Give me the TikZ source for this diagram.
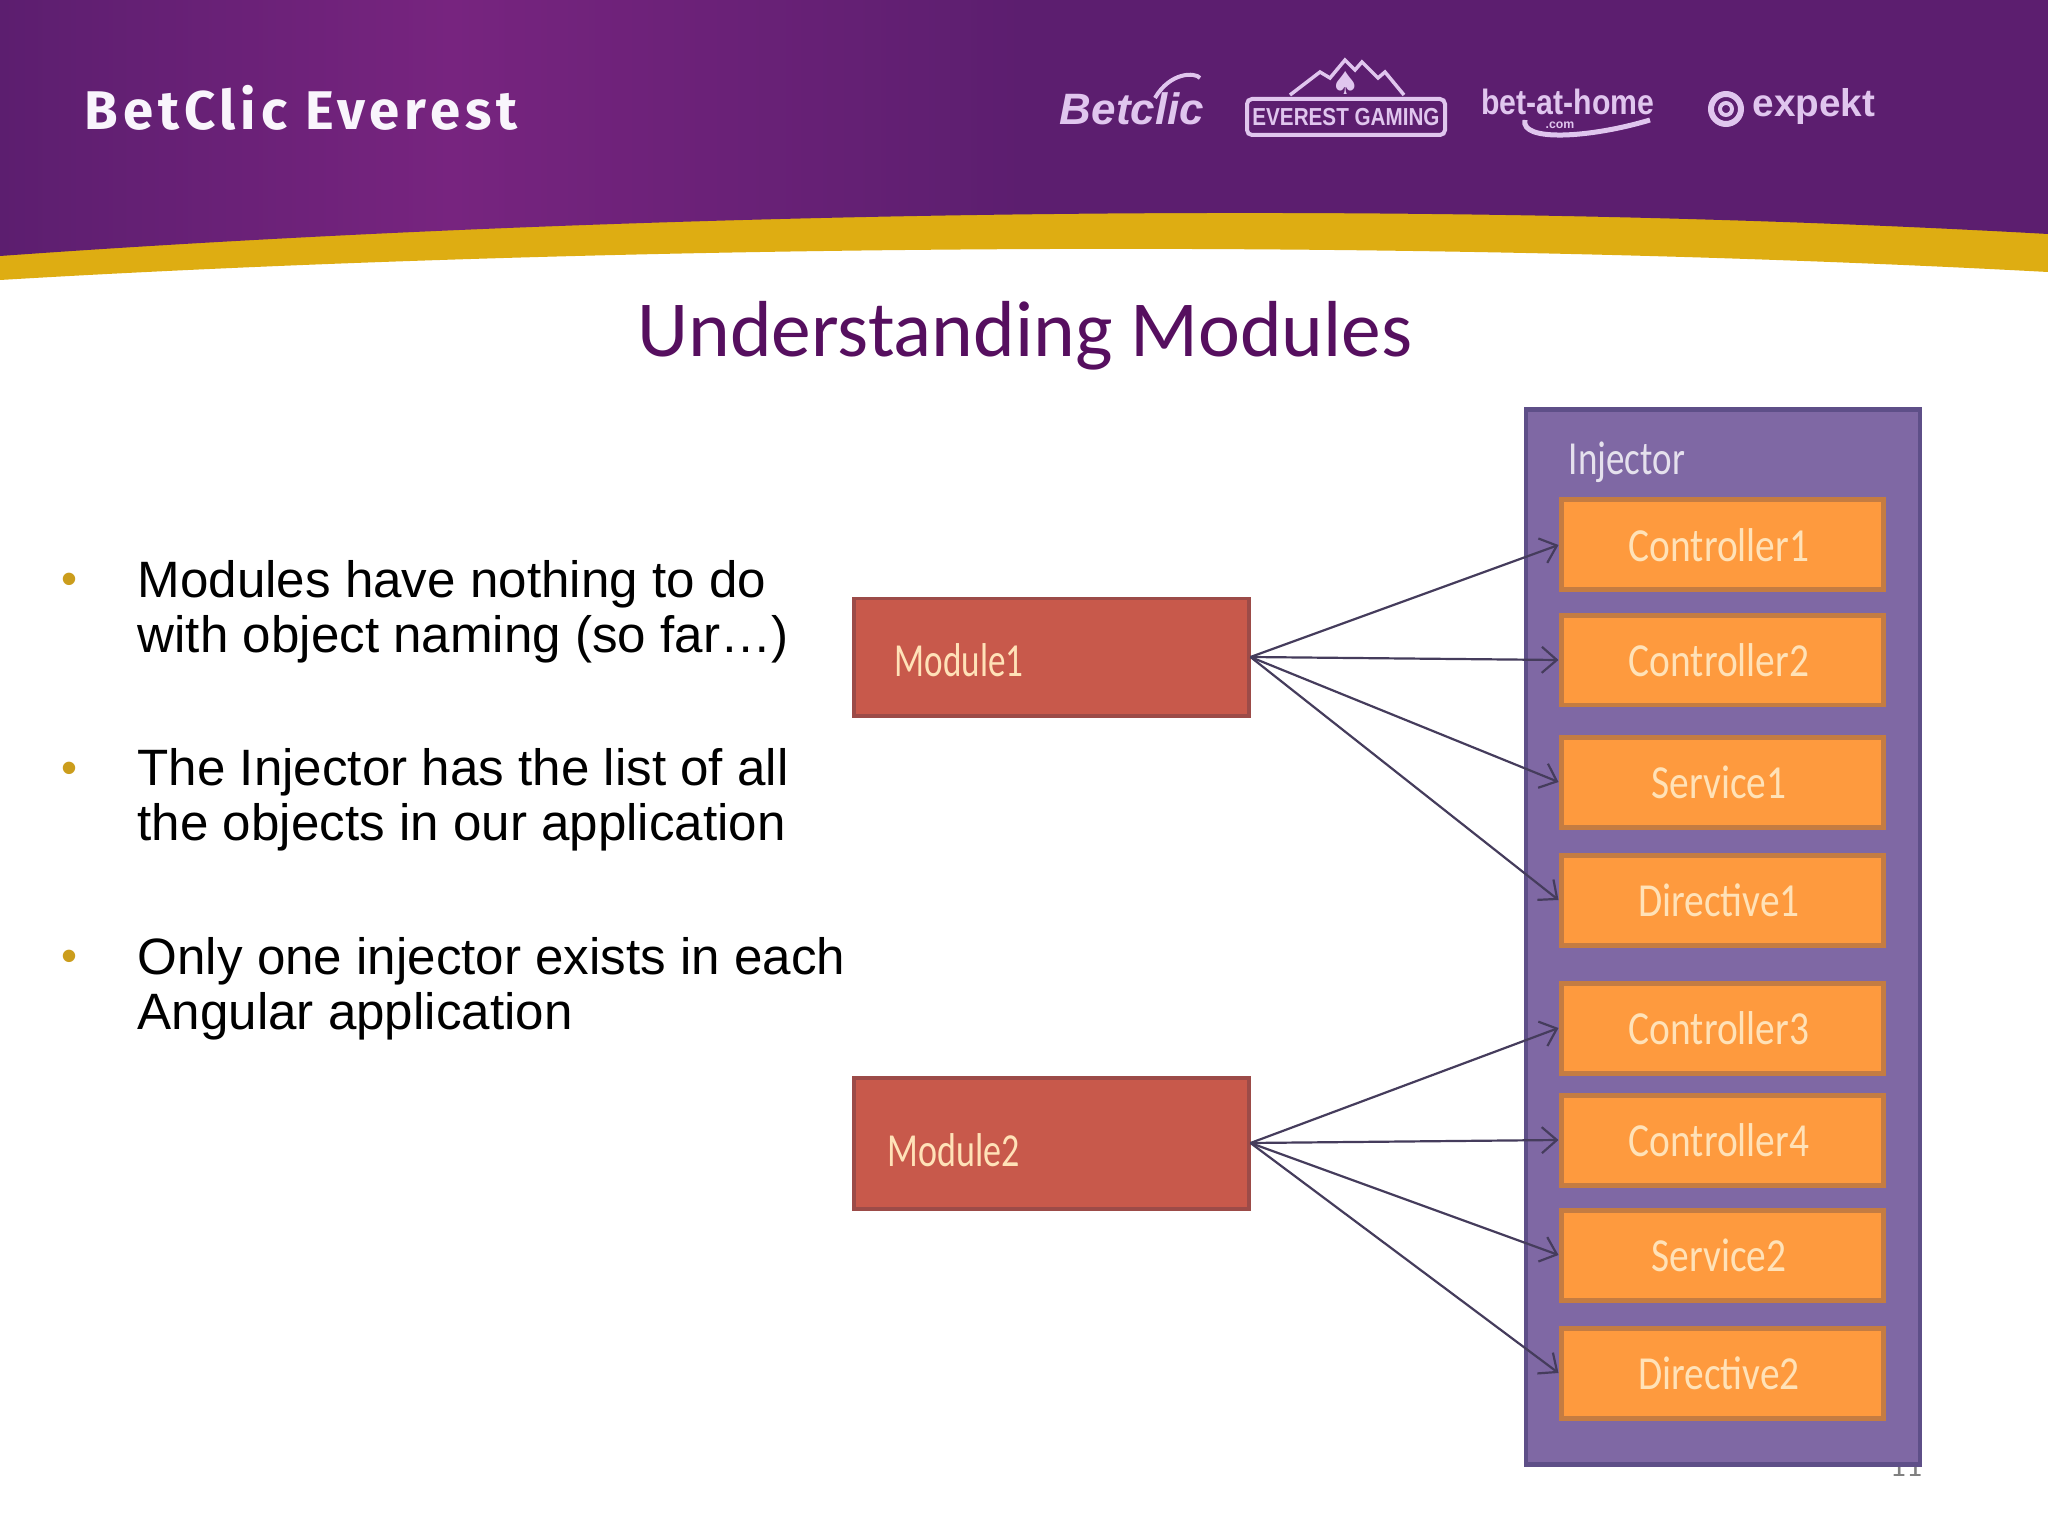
\documentclass[tikz,border=0pt]{standalone}
\usepackage{fontspec}
\usetikzlibrary{arrows.meta}
\setmainfont{Liberation Sans}
\newfontfamily\titlefont{Carlito}
\newfontfamily\handfont{Carlito}
\newfontfamily\brandfont[LetterSpace=9]{Fira Sans}
\newfontfamily\logofont{Liberation Sans}
\newfontfamily\symfont{DejaVu Sans}
\definecolor{bandpurple}{HTML}{5C1E6F}
\definecolor{bandlight}{HTML}{77247F}
\definecolor{bandgold}{HTML}{DEAD12}
\definecolor{logolilac}{HTML}{E0C6EE}
\definecolor{titlepurple}{HTML}{560F5F}
\definecolor{injfill}{HTML}{7F68A4}
\definecolor{injedge}{HTML}{5E4F88}
\definecolor{orfill}{HTML}{FE9A3E}
\definecolor{oredge}{HTML}{C47C42}
\definecolor{modfill}{HTML}{C8594B}
\definecolor{modedge}{HTML}{9C4B48}
\definecolor{labelcream}{HTML}{FFE2B8}
\definecolor{arrowdark}{HTML}{453C5C}
\definecolor{bulletgold}{HTML}{CB9D1C}
\pgfdeclarehorizontalshading{bandshade}{100bp}{color(0bp)=(bandpurple); color(25bp)=(bandpurple); color(36bp)=(bandlight); color(50bp)=(bandpurple); color(100bp)=(bandpurple)}
\newcommand{\thin}[2]{\scalebox{#1}[1]{#2}}
\begin{document}
\begin{tikzpicture}[>={Straight Barb[length=1.5mm,width=2.6mm]}]
  \tikzstyle{part}=[draw=oredge,fill=orfill,line width=0.5mm,minimum width=3.22cm,minimum height=0.9cm,inner sep=0pt]
  \tikzstyle{module}=[draw=modedge,fill=modfill,line width=0.4mm,minimum width=3.95cm,inner sep=0pt]
  \tikzstyle{cream}=[text=labelcream,font=\handfont\fontsize{13.5}{13.5}\selectfont,inner sep=0pt]
  \tikzstyle{bodytext}=[anchor=west,align=left,inner sep=0pt,font=\fontsize{14.55}{15.8}\selectfont]
  \tikzstyle{bullet}=[text=bulletgold,inner sep=0pt,font=\fontsize{13}{13}\selectfont]
  \tikzstyle{logo}=[text=logolilac,inner sep=0pt]
  \tikzstyle{link}=[->,draw=arrowdark,line width=0.22mm]
  \def\px{17.22}	% centre of the injector column
  \useasboundingbox (0,0) rectangle (20.48,-15.36);
  % banner
  \fill[white] (0,0) rectangle (20.48,-15.36);
  \fill[bandgold] (0,-2.54) .. controls (5,-2.2) and (13,-1.9) .. (20.48,-2.32)
    -- (20.48,-2.72) .. controls (13,-2.32) and (5,-2.5) .. (0,-2.8) -- cycle;
  \shade[shading=bandshade] (0,0) -- (20.48,0) -- (20.48,-2.34)
    .. controls (13,-1.92) and (5,-2.2) .. (0,-2.56) -- cycle;
  \node[text=white!82!logolilac,inner sep=0pt,font=\brandfont\bfseries\fontsize{15.5}{15.5}\selectfont] (brand) at (3.01,-1.08) {BetClic Everest};
  % logos
  \node[logo,font=\logofont\bfseries\itshape\fontsize{12.5}{12.5}\selectfont] (betclic) at (11.32,-1.09) {Betclic};
  \draw[logolilac,line width=0.4mm] (11.55,-0.98) .. controls (11.7,-0.72) and (11.95,-0.72) .. (12,-0.78);
  \node[draw=logolilac,rounded corners=0.5mm,line width=0.4mm,minimum width=1.98cm,minimum height=0.36cm,inner sep=0pt,logo,font=\logofont\bfseries\fontsize{7}{7}\selectfont] (everest) at (13.46,-1.17) {\thin{.84}{EVEREST GAMING}};
  \draw[logolilac,line width=0.35mm] (12.9,-0.95) -- (13.2,-0.72) -- (13.3,-0.78) -- (13.45,-0.6) -- (13.55,-0.7) -- (13.62,-0.62) -- (13.78,-0.78) -- (13.85,-0.72) -- (14.04,-0.95);
  \node[logo,font=\symfont\fontsize{9}{9}\selectfont] (spade) at (13.46,-0.83) {♠};
  \node[logo,font=\logofont\bfseries\fontsize{10}{10}\selectfont] (bethome) at (15.68,-1.02) {\thin{.86}{bet-at-home}};
  \node[logo,font=\logofont\bfseries\fontsize{3.5}{3.5}\selectfont] (betcom) at (15.6,-1.25) {.com};
  \draw[logolilac,line width=0.5mm] (15.25,-1.2) .. controls (15.2,-1.42) and (15.9,-1.38) .. (16.5,-1.2);
  \node[logo,font=\logofont\bfseries\fontsize{11}{11}\selectfont] (expekt) at (18.14,-1.07) {expekt};
  \node[draw=logolilac,line width=0.6mm,circle,minimum size=0.3cm,inner sep=0pt] (swirl) at (17.26,-1.09) {};
  \node[draw=logolilac,line width=0.4mm,circle,minimum size=0.12cm,inner sep=0pt] (swirlin) at (swirl) {};
  % title and text
  \node[text=titlepurple,inner sep=0pt,font=\titlefont\fontsize{22.6}{22.6}\selectfont] (title) at (10.25,-3.36) {Understanding Modules};
  \node[bullet] (b1) at (0.69,-5.84) {•};
  \node[bodytext] (t1) at (1.37,-6.12) {Modules have nothing to do\\with object naming (so far…)};
  \node[bullet] (b2) at (0.69,-7.73) {•};
  \node[bodytext] (t2) at (1.37,-8) {The Injector has the list of all\\the objects in our application};
  \node[bullet] (b3) at (0.69,-9.61) {•};
  \node[bodytext] (t3) at (1.37,-9.89) {Only one injector exists in each\\Angular application};
  \node[text=black!50,inner sep=0pt,font=\titlefont\fontsize{9}{9}\selectfont] (pagenum) at (19.06,-14.66) {11};
  % injector column
  \node[draw=injedge,fill=injfill,line width=0.45mm,minimum width=3.94cm,minimum height=10.55cm,inner sep=0pt] (injector) at (17.23,-9.37) {};
  \node[cream,text=white!80!injfill] (injlabel) at (16.27,-4.62) {\thin{.78}{Injector}};
  \node[part] (ctrl1) at (\px,-5.45) {};
  \node[part] (ctrl2) at (\px,-6.6) {};
  \node[part] (serv1) at (\px,-7.82) {};
  \node[part] (dir1) at (\px,-9) {};
  \node[part] (ctrl3) at (\px,-10.28) {};
  \node[part] (ctrl4) at (\px,-11.4) {};
  \node[part] (serv2) at (\px,-12.55) {};
  \node[part] (dir2) at (\px,-13.73) {};
  \foreach \n/\t in {ctrl1/Controller1,ctrl2/Controller2,serv1/Service1,dir1/Directive1,ctrl3/Controller3,ctrl4/Controller4,serv2/Service2,dir2/Directive2}
    \node[cream,xshift=-0.3mm] (\n text) at (\n) {\thin{.83}{\t}};
  % modules
  \node[module,minimum height=1.17cm] (mod1) at (10.51,-6.57) {};
  \node[module,minimum height=1.31cm] (mod2) at (10.51,-11.43) {};
  \node[cream] (mod1text) at (9.59,-6.6) {\thin{.74}{Module1}};
  \node[cream] (mod2text) at (9.54,-11.5) {\thin{.76}{Module2}};
  \foreach \n in {ctrl1,ctrl2,serv1,dir1}
    \draw[link] (mod1.east) -- (\n.west);
  \foreach \n in {ctrl3,ctrl4,serv2,dir2}
    \draw[link] (mod2.east) -- (\n.west);
\end{tikzpicture}
\end{document}
